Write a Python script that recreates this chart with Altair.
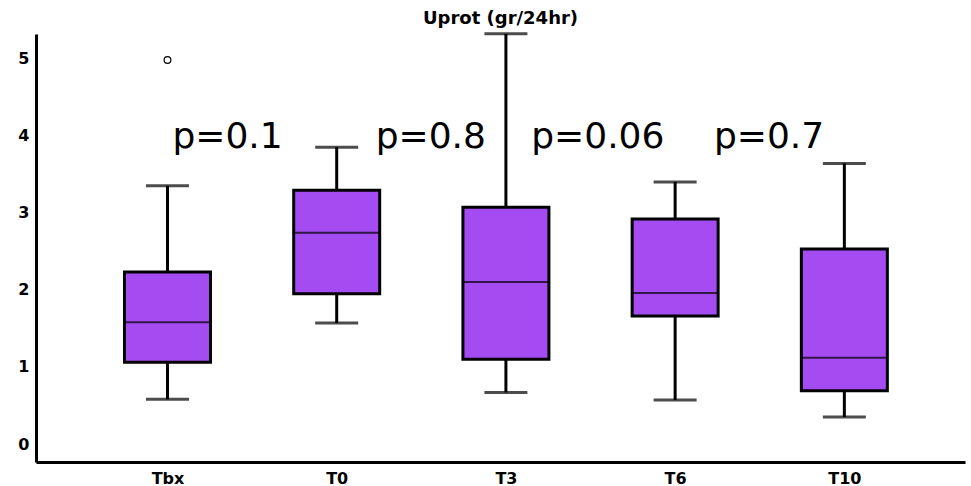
import altair as alt
import pandas as pd

# Box statistics
groups = ["Tbx", "T0", "T3", "T6", "T10"]
low = [0.58, 1.57, 0.67, 0.57, 0.35]
q1 = [1.06, 1.95, 1.10, 1.66, 0.69]
median = [1.58, 2.74, 2.10, 1.96, 1.12]
q3 = [2.23, 3.29, 3.07, 2.92, 2.53]
high = [3.35, 3.85, 5.32, 3.40, 3.64]

# Outliers
outlier_group = [0]
outlier_value = [4.98]

# p-value annotations (placed between groups)
p_labels = ["p=0.1", "p=0.8", "p=0.06", "p=0.7"]
p_x = [0.355, 1.556, 2.543, 3.555]
p_y = [3.84, 3.84, 3.84, 3.84]

df = pd.DataFrame({
    "idx": list(range(len(groups))),
    "group": groups,
    "low": low, "q1": q1, "median": median, "q3": q3, "high": high,
})
out_df = pd.DataFrame({"idx": outlier_group, "value": outlier_value})
p_df = pd.DataFrame({"label": p_labels, "x": p_x, "y": p_y})

label_expr = "[" + ",".join(f"'{g}'" for g in groups) + "][datum.value]"

xscale = alt.Scale(domain=[-0.777, 4.713], nice=False, zero=False, padding=0)
yscale = alt.Scale(domain=[-0.233, 5.318], nice=False, zero=False, padding=0)

xaxis = alt.Axis(values=list(range(len(groups))), labelExpr=label_expr, title=None,
                 ticks=False, grid=False, domainColor="black", domainWidth=3,
                 labelFont="DejaVu Sans", labelFontWeight="bold", labelFontSize=16,
                 labelColor="black", labelPadding=8)
yaxis = alt.Axis(values=[0, 1, 2, 3, 4, 5], format="d", title=None, ticks=False, grid=False,
                 domainColor="black", domainWidth=3,
                 labelFont="DejaVu Sans", labelFontWeight="bold", labelFontSize=16,
                 labelColor="black", labelPadding=7)

base = alt.Chart(df)
X = alt.X("idx:Q", scale=xscale, axis=xaxis)

whisk_lo = base.mark_rule(color="black", strokeWidth=3).encode(
    x=X, y=alt.Y("low:Q", scale=yscale, axis=yaxis), y2="q1:Q")
whisk_hi = base.mark_rule(color="black", strokeWidth=3).encode(
    x=X, y=alt.Y("q3:Q", scale=yscale), y2="high:Q")
box = base.mark_bar(size=86, fill="#A54BF2", stroke="black", strokeWidth=3).encode(
    x=X, y=alt.Y("q1:Q", scale=yscale), y2="q3:Q")
med = base.mark_tick(orient="horizontal", size=86, thickness=2, color="black").encode(
    x=X, y=alt.Y("median:Q", scale=yscale))
cap_lo = base.mark_tick(orient="horizontal", size=43, thickness=3, color="black").encode(
    x=X, y=alt.Y("low:Q", scale=yscale))
cap_hi = base.mark_tick(orient="horizontal", size=43, thickness=3, color="black").encode(
    x=X, y=alt.Y("high:Q", scale=yscale))
outl = alt.Chart(out_df).mark_point(shape="circle", filled=False, size=45,
                                    color="black", strokeWidth=1.2, opacity=1).encode(
    x=alt.X("idx:Q", scale=xscale), y=alt.Y("value:Q", scale=yscale))
ptext = alt.Chart(p_df).mark_text(font="DejaVu Sans", fontSize=36, color="black",
                                  align="center", baseline="alphabetic").encode(
    x=alt.X("x:Q", scale=xscale), y=alt.Y("y:Q", scale=yscale), text="label:N")

chart = alt.layer(whisk_lo, whisk_hi, box, med, cap_lo, cap_hi, outl, ptext).properties(
    width=929, height=428,
    title=alt.TitleParams("Uprot (gr/24hr)", font="DejaVu Sans", fontWeight="bold",
                          fontSize=18, color="black", anchor="middle", frame="group",
                          baseline="alphabetic", offset=11, dy=21),
    padding={"left": 36, "top": 34, "right": 6, "bottom": 24},
    autosize=alt.AutoSizeParams(type="none"),
    background="white",
).configure_view(stroke=None)

chart.save("out.html", embed_options={"renderer": "svg", "actions": False})
